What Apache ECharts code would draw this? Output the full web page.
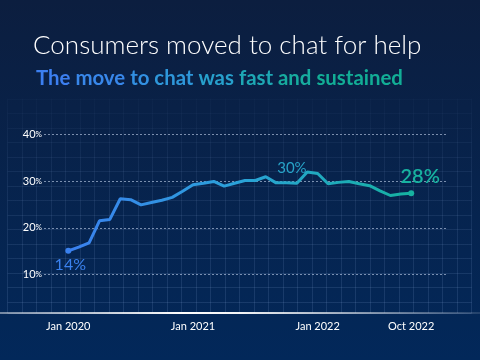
<!DOCTYPE html>
<html>
<head>
<meta charset="utf-8">
<script src="https://cdn.jsdelivr.net/npm/echarts@6/dist/echarts.min.js"></script>
<style>
html,body{margin:0;padding:0;background:#06224c;}
#c{width:480px;height:360px;}
</style>
</head>
<body>
<div id="c"></div>
<script>
// ---- data ----
const months = [
  'Jan 2020','Feb 2020','Mar 2020','Apr 2020','May 2020','Jun 2020','Jul 2020','Aug 2020','Sep 2020','Oct 2020','Nov 2020','Dec 2020',
  'Jan 2021','Feb 2021','Mar 2021','Apr 2021','May 2021','Jun 2021','Jul 2021','Aug 2021','Sep 2021','Oct 2021','Nov 2021','Dec 2021',
  'Jan 2022','Feb 2022','Mar 2022','Apr 2022','May 2022','Jun 2022','Jul 2022','Aug 2022','Sep 2022','Oct 2022'
];
const chatShare = [
  15.1, 15.9, 16.8, 21.5, 21.8, 26.2, 26.0, 24.9, 25.4, 25.9, 26.5, 27.8,
  29.2, 29.5, 29.9, 28.9, 29.5, 30.1, 30.1, 30.9, 29.6, 29.6, 29.5, 31.9,
  31.6, 29.4, 29.7, 29.9, 29.4, 29.0, 27.9, 26.9, 27.2, 27.4
];
const xTickLabels = ['Jan 2020', 'Jan 2021', 'Jan 2022', 'Oct 2022'];
const yTicks = [10, 20, 30, 40];
const callouts = [
  { month: 'Jan 2020', text: '14%' },
  { month: 'Nov 2021', text: '30%' },
  { month: 'Oct 2022', text: '28%' }
];
const titleText = 'Consumers moved to chat for help';
const subtitleWords = ['The', 'move', 'to', 'chat', 'was', 'fast', 'and', 'sustained'];

// ---- styling ----
const FONT = 'Lato';
const subtitleColors = ['#3c7ff0', '#3887ea', '#3290e2', '#2e97da', '#27a0cc', '#1ea8b4', '#17ab9f', '#12ad96'];
const calloutStyle = {
  '14%': { position: 'bottom', offset: [2, -2], fontSize: 16, color: '#3a81ee', weight: 400 },
  '30%': { position: 'top', offset: [-5, -3], fontSize: 15, color: '#27a3c8', weight: 400 },
  '28%': { position: 'top', offset: [9, 1], fontSize: 20, color: '#17b2a0', weight: 600 }
};

const chart = echarts.init(document.getElementById('c'), null, { renderer: 'canvas' });
const G = echarts.graphic.LinearGradient;

const lastIdx = chatShare.length - 1;
const seriesData = chatShare.map((v, i) => {
  const item = { value: v };
  const c = callouts.find(o => o.month === months[i]);
  if (c) {
    const s = calloutStyle[c.text];
    item.label = {
      show: true, formatter: c.text, position: s.position, offset: s.offset,
      fontSize: s.fontSize, color: s.color, fontFamily: FONT, fontWeight: s.weight
    };
  }
  if (i === 0) item.itemStyle = { color: '#3a81ee' };
  if (i === lastIdx) item.itemStyle = { color: '#17b2a0' };
  return item;
});

const subtitleRich = {};
subtitleWords.forEach((w, i) => {
  subtitleRich['w' + i] = { color: subtitleColors[i], fontSize: 20.4, fontWeight: 'bold', fontFamily: FONT };
});
const subtitleStr = subtitleWords.map((w, i) => '{w' + i + '|' + w + '}').join('{w0| }');

const bgGridColor = new G(0, 95, 0, 313, [
  { offset: 0, color: 'rgba(150,180,230,0.02)' },
  { offset: 0.35, color: 'rgba(150,180,230,0.09)' },
  { offset: 1, color: 'rgba(150,180,230,0.15)' }
], true);

const option = {
  animation: false,
  backgroundColor: new G(0, 0, 0, 1, [
    { offset: 0, color: '#0c1e3f' },
    { offset: 1, color: '#02285a' }
  ]),
  title: [
    {
      text: titleText, left: 28, top: 28,
      textStyle: { color: '#ffffff', fontSize: 26, fontWeight: 300, fontFamily: FONT }
    },
    {
      text: subtitleStr, left: 31, top: 63.5,
      textStyle: { rich: subtitleRich, fontSize: 20.4 }
    }
  ],
  grid: [
    { left: 7.7, right: 8.3, top: 98.8, bottom: 47 },
    { left: 44, right: 33.3, top: 134.1, bottom: 85.3 },
    { left: 68.3, right: 68.8, top: 134.1, bottom: 85.3 }
  ],
  xAxis: [
    {
      gridIndex: 0, type: 'value', min: 0, max: 32, interval: 1,
      axisLine: { show: false }, axisTick: { show: false }, axisLabel: { show: false },
      splitLine: { show: true, lineStyle: { color: bgGridColor, width: 1 } }
    },
    {
      gridIndex: 1, type: 'value', min: 0, max: 1,
      axisLine: { show: false }, axisTick: { show: false }, axisLabel: { show: false }, splitLine: { show: false }
    },
    {
      gridIndex: 2, type: 'category', data: months, boundaryGap: false,
      axisLine: { show: false }, axisTick: { show: false }, splitLine: { show: false },
      axisLabel: {
        interval: (idx, val) => xTickLabels.includes(val),
        color: '#ffffff', fontSize: 11, fontFamily: FONT, margin: 46
      }
    }
  ],
  yAxis: [
    {
      gridIndex: 0, type: 'value', inverse: true, min: 0, max: 14.77, interval: 1,
      axisLine: { show: false }, axisTick: { show: false }, axisLabel: { show: false },
      splitLine: { show: true, lineStyle: { color: bgGridColor, width: 1 } }
    },
    {
      gridIndex: 1, type: 'value', min: yTicks[0], max: yTicks[yTicks.length - 1], interval: 10,
      axisLine: { show: false }, axisTick: { show: false },
      axisLabel: {
        margin: 2,
        formatter: v => '{n|' + v + '}{p|%}',
        rich: {
          n: { fontSize: 11, color: '#ffffff', fontFamily: FONT },
          p: { fontSize: 8, color: '#ffffff', fontFamily: FONT }
        }
      },
      splitLine: { show: true, lineStyle: { color: 'rgba(200,215,240,0.6)', type: [2, 2], width: 1 } }
    },
    {
      gridIndex: 2, type: 'value', min: yTicks[0], max: yTicks[yTicks.length - 1],
      axisLine: { show: false }, axisTick: { show: false }, axisLabel: { show: false }, splitLine: { show: false }
    }
  ],
  series: [
    {
      type: 'line', xAxisIndex: 2, yAxisIndex: 2,
      data: seriesData,
      symbol: 'circle', showAllSymbol: true,
      symbolSize: (v, p) => (p.dataIndex === 0 || p.dataIndex === lastIdx) ? 6 : 0,
      lineStyle: {
        width: 3,
        color: new G(0, 0, 1, 0, [
          { offset: 0, color: '#3b80f0' },
          { offset: 0.5, color: '#2aa2d8' },
          { offset: 1, color: '#15b2a0' }
        ])
      },
      label: { show: false },
      emphasis: { disabled: true },
      z: 5
    }
  ],
  graphic: [
    {
      type: 'line', z: 10,
      shape: { x1: 0, y1: 313, x2: 480, y2: 313 },
      style: {
        lineWidth: 2,
        stroke: new G(0, 0, 480, 0, [
          { offset: 0, color: 'rgba(255,255,255,0.45)' },
          { offset: 0.38, color: 'rgba(255,255,255,1)' },
          { offset: 0.5, color: 'rgba(255,255,255,0.95)' },
          { offset: 1, color: 'rgba(255,255,255,0.12)' }
        ], true)
      }
    }
  ]
};
chart.setOption(option);
</script>
</body>
</html>
